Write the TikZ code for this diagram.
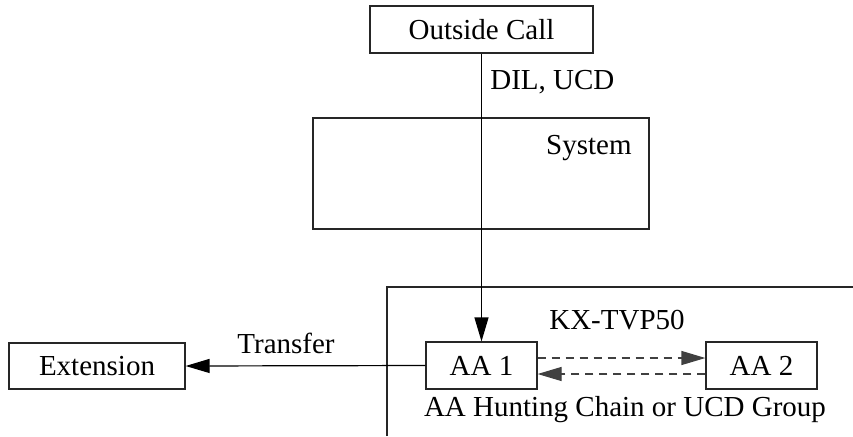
\documentclass[tikz,border=0pt]{standalone}
\usepackage{fontspec}
\setmainfont{Liberation Serif}
\usetikzlibrary{arrows.meta}
\begin{document}
\begin{tikzpicture}[x=0.5pt,y=-0.5pt,
  every node/.style={font=\fontsize{14.5}{17}\selectfont, inner sep=0pt},
  box/.style={draw=black!85, line width=0.6pt},
  conn/.style={line width=0.6pt, -{Triangle[length=12pt,width=7pt]}},
  dconn/.style={conn, draw=black!75, dash pattern=on 4pt off 3pt}]
\useasboundingbox (0,0) rectangle (853,436);
% boxes
\node[box, minimum width=111.5pt, minimum height=23.5pt] (out) at (481.5,29.5) {Outside Call};
\node[box, minimum width=168pt, minimum height=55.5pt] (sys) at (481,173.5) {};
\node[anchor=east] (systxt) at (632,148) {System};
\node[box, minimum width=88pt, minimum height=23pt] (ext) at (97,366) {Extension};
\node[box, minimum width=55.5pt, minimum height=23.5pt] (aa1) at (481.5,365.5) {AA 1};
\node[box, minimum width=55.5pt, minimum height=23.5pt] (aa2) at (761.5,365.5) {AA 2};
% KX-TVP50 region
\draw[draw=black!85, line width=0.6pt] (387,436) -- (387,287) -- (853,287);
\node (kx) at (617,320) {KX-TVP50};
\node (hunt) at (625,410) {AA Hunting Chain or UCD Group};
% labels
\node[anchor=west] (dil) at (490,82) {DIL, UCD};
\node (tr) at (286,343) {Transfer};
% connectors
\draw[conn] (out.south) -- (aa1.north);
\draw[conn] (aa1.west) -- (ext.east);
\draw[dconn] (aa1.east |- 0,358) -- (aa2.west |- 0,358);
\draw[dconn] (aa2.west |- 0,374) -- (aa1.east |- 0,374);
\end{tikzpicture}
\end{document}
